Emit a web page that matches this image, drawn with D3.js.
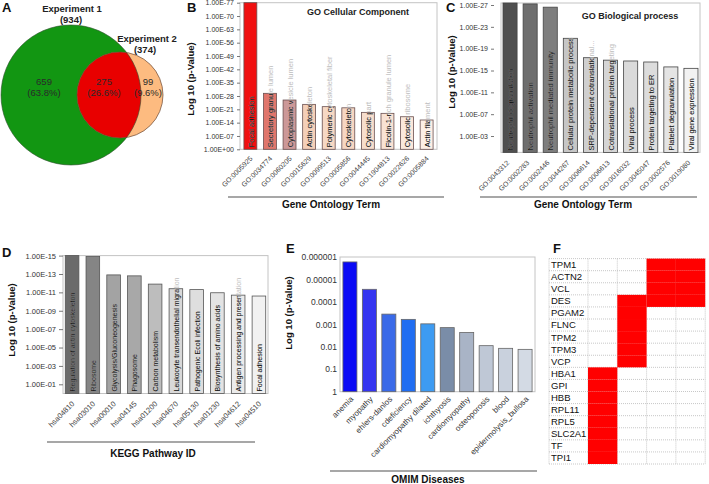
<!DOCTYPE html>
<html><head><meta charset="utf-8">
<script src="https://cdn.jsdelivr.net/npm/d3@7"></script>
<style>
body{margin:0;background:#fff}
svg{display:block;font-family:Arial,"Liberation Sans",sans-serif}
</style>
</head><body>
<svg id="chart" width="709" height="484"></svg>
<script>
// ---------------- DATA ----------------
const vennSets = ["Experiment 1", "Experiment 2"];
const vennTotals = [934, 374];
const vennCounts = [659, 275, 99];
const vennPct = ["63.8%", "26.6%", "9.6%"];

const ccIds = ["GO:0005925","GO:0034774","GO:0060205","GO:0015629","GO:0099513","GO:0005856","GO:0044445","GO:1904813","GO:0022626","GO:0005884"];
const ccNames = ["Focal adhesion","Secretory granule lumen","Cytoplasmic vesicle lumen","Actin cytoskeleton","Polymeric cytoskeletal fiber","Cytoskeleton","Cytosolic part","Ficolin-1-rich granule lumen","Cytosolic ribosome","Actin filament"];
const ccPValues = [1e-77, 4e-30, 1.3e-26, 2.5e-24, 4e-23, 1.6e-22, 4e-20, 1.3e-19, 7.9e-18, 4e-16];
const ccTicks = [1e0,1e-7,1e-14,1e-21,1e-28,1e-35,1e-42,1e-49,1e-56,1e-63,1e-70,1e-77];
const ccTickLabels = ["1.00E+00","1.00E-07","1.00E-14","1.00E-21","1.00E-28","1.00E-35","1.00E-42","1.00E-49","1.00E-56","1.00E-63","1.00E-70","1.00E-77"];

const bpIds = ["GO:0043312","GO:0002283","GO:0002446","GO:0044267","GO:0006614","GO:0006613","GO:0016032","GO:0045047","GO:0002576","GO:0019080"];
const bpNames = ["Neutrophil degranulation","Neutrophil activation","Neutrophil mediated immunity","Cellular protein metabolic process","SRP-dependent cotranslational...","Cotranslational protein targeting","Viral process","Protein targeting to ER","Platelet degranulation","Viral gene expression"];
const bpPValues = [4e-28, 6.3e-28, 2.5e-27, 1.26e-21, 4.5e-18, 1.26e-17, 1.8e-17, 2.75e-17, 2.2e-16, 4e-16];
const bpTicks = [1e-3,1e-7,1e-11,1e-15,1e-19,1e-23,1e-27];
const bpTickLabels = ["1.00E-03","1.00E-07","1.00E-11","1.00E-15","1.00E-19","1.00E-23","1.00E-27"];

const keggIds = ["hsa04810","hsa03010","hsa00010","hsa04145","hsa01200","hsa04670","hsa05130","hsa01230","hsa04612","hsa04510"];
const keggNames = ["Regulation of actin cytoskeleton","Ribosome","Glycolysis/Gluconeogenesis","Phagosome","Carbon metabolism","Leukocyte transendothelial migration","Pathogenic Ecoli infection","Biosynthesis of amino acids","Antigen processing and presentation","Focal adhesion"];
const keggPValues = [7.9e-16, 1.26e-15, 1.26e-13, 1.6e-13, 1.26e-12, 4e-12, 5e-12, 1.1e-11, 2e-11, 2.5e-11];
const keggTicks = [1e-1,1e-3,1e-5,1e-7,1e-9,1e-11,1e-13,1e-15];
const keggTickLabels = ["1.00E-01","1.00E-03","1.00E-05","1.00E-07","1.00E-09","1.00E-11","1.00E-13","1.00E-15"];

const omimNames = ["anemia","myopathy","ehlers-danlos","cdeficiency","cardiomyopathy dilated","ichthyosis","cardiomyopathy","osteoporosis","blood","epidermolysis_bullosa"];
const omimPValues = [1.66e-6, 2.75e-5, 3.5e-4, 6.0e-4, 9.5e-4, 1.4e-3, 2.3e-3, 8.9e-3, 1.17e-2, 1.3e-2];
const omimTicks = [1,0.1,0.01,0.001,0.0001,0.00001,0.000001];
const omimTickLabels = ["1","0.1","0.01","0.001","0.0001","0.00001","0.000001"];

const geneNames = ["TPM1","ACTN2","VCL","DES","PGAM2","FLNC","TPM2","TPM3","VCP","HBA1","GPI","HBB","RPL11","RPL5","SLC2A1","TF","TPI1"];
const geneGroups = [[2,3],[2,3],[2,3],[1,2,3],[1],[1],[1],[1],[1],[0],[0],[0],[0],[0],[0],[0],[0]];
const groupColumns = [0,1,2,3];

// ---------------- STYLES ----------------
const ccColors = ["#f01010","#e0766c","#cc9898","#f4cfb8","#f6d8c4","#f6d6c2","#f7ddcc","#f8e2d4","#fae8dc","#fcefe6"];
const bpColors = ["#4f4f4f","#6e6e6e","#7e7e7e","#c6c6c6","#cfcfcf","#d5d5d5","#dadada","#dcdcdc","#e4e4e4","#f2f2f2"];
const keggColors = ["#6b6b6b","#858585","#a3a3a3","#a8a8a8","#bdbdbd","#d8d8d8","#dedede","#e3e3e3","#ebebeb","#f1f1f1"];
const omimColors = ["#0a0af5","#3535f0","#3a6ae8","#1f6df2","#3d9bf2","#7a8da8","#a9b4c6","#bfc8d6","#c9d1dd","#d3dae4"];

const svg = d3.select("#chart");
svg.append("rect").attr("width",709).attr("height",484).attr("fill","#fff");
const defs = svg.append("defs");

function panelLetter(t,x,y){
  svg.append("text").attr("x",x).attr("y",y).text(t)
    .attr("font-size",13).attr("font-weight","bold").attr("fill","#111");
}

// ---------------- A: Venn ----------------
(function(){
  const g = svg.append("g");
  const c1 = {x:71,y:95,r:70}, c2 = {x:120,y:95,r:43};
  defs.append("clipPath").attr("id","clipGreen").append("circle").attr("cx",c1.x).attr("cy",c1.y).attr("r",c1.r);
  g.append("circle").attr("cx",c1.x).attr("cy",c1.y).attr("r",c1.r).attr("fill","#129612");
  g.append("circle").attr("cx",c2.x).attr("cy",c2.y).attr("r",c2.r).attr("fill","#fdbb80");
  g.append("circle").attr("cx",c2.x).attr("cy",c2.y).attr("r",c2.r).attr("fill","#e80000").attr("clip-path","url(#clipGreen)");
  g.append("circle").attr("cx",c1.x).attr("cy",c1.y).attr("r",c1.r).attr("fill","none").attr("stroke","#2f4f2f").attr("stroke-width",0.6);
  g.append("circle").attr("cx",c2.x).attr("cy",c2.y).attr("r",c2.r).attr("fill","none").attr("stroke","#6a4630").attr("stroke-width",0.7);
  const hdr = [{x:72,y:12},{x:147,y:42}];
  vennSets.forEach((s,i)=>{
    g.append("text").attr("x",hdr[i].x).attr("y",hdr[i].y).attr("text-anchor","middle")
      .attr("font-size",9.5).attr("font-weight","bold").attr("fill","#222").text(s);
    g.append("text").attr("x",hdr[i].x-(i?2:1)).attr("y",hdr[i].y+10.5).attr("text-anchor","middle")
      .attr("font-size",9.5).attr("font-weight","bold").attr("fill","#222").text("("+vennTotals[i]+")");
  });
  const pos = [44,104,148];
  vennCounts.forEach((v,i)=>{
    g.append("text").attr("x",pos[i]).attr("y",85).attr("text-anchor","middle").attr("font-size",9.5).attr("fill","#2a2a2a").text(v);
    g.append("text").attr("x",pos[i]).attr("y",96).attr("text-anchor","middle").attr("font-size",9.5).attr("fill","#2a2a2a").text("("+vennPct[i]+")");
  });
})();

// ---------------- Bar panel helper ----------------
function barPanel(o){
  const g = svg.append("g");
  const x = d3.scaleBand().domain(o.ids).range([o.left,o.right]).paddingInner(o.padIn).paddingOuter(o.padOut);
  const y = d3.scaleLog().domain([1,o.pMin]).range([o.bottom,o.tickTop]);
  g.append("rect").attr("x",o.left).attr("y",o.boxTop).attr("width",o.right-o.left).attr("height",o.bottom-o.boxTop)
    .attr("fill","none").attr("stroke","#c4c4c4").attr("stroke-width",1);
  const ax = d3.axisLeft(y).tickValues(o.ticks).tickFormat((d,i)=>o.tickLabels[i]).tickSize(o.tickSize).tickPadding(o.tickPad);
  const ag = g.append("g").attr("transform",`translate(${o.axisX},0)`).call(ax);
  ag.select(".domain").remove();
  ag.selectAll(".tick line").attr("stroke","#777");
  ag.selectAll(".tick text").attr("font-size",o.tickFont).attr("fill","#333").attr("font-family","Arial, 'Liberation Sans', sans-serif");
  const top = p => Math.max(y(p), o.boxTop);
  g.selectAll("rect.bar").data(o.values).join("rect").attr("class","bar")
    .attr("x",(d,i)=>x(o.ids[i])).attr("width",x.bandwidth())
    .attr("y",d=>top(d)).attr("height",d=>o.bottom-top(d))
    .attr("fill",(d,i)=>o.colors[i]).attr("stroke",o.barStroke).attr("stroke-width",0.8);
  if(o.names){
    o.values.forEach((d,i)=>{
      const cx = x(o.ids[i]) + x.bandwidth()/2 + 0.5;
      const cid = `clip-${o.key}-${i}`;
      defs.append("clipPath").attr("id",cid).append("rect")
        .attr("x",x(o.ids[i])).attr("y",top(d)+0.5).attr("width",x.bandwidth()).attr("height",o.bottom-top(d));
      const tr = `translate(${cx},${o.bottom-2}) rotate(-90)`;
      g.append("text").attr("transform",tr).attr("dy","0.35em").attr("font-size",o.nameFont)
        .attr("fill","#bdbdbd").text(o.names[i]);
      g.append("g").attr("clip-path",`url(#${cid})`)
        .append("text").attr("transform",tr).attr("dy","0.35em").attr("font-size",o.nameFont)
        .attr("fill","#111").text(o.names[i]);
    });
  }
  o.ids.forEach((id,i)=>{
    const cx = x(id) + x.bandwidth()/2 + o.lblDx;
    const cy = o.bottom + o.lblDy;
    g.append("text").attr("transform",`translate(${cx},${cy}) rotate(-45)`).attr("text-anchor","end")
      .attr("dy","0.35em").attr("font-size",o.lblFont).attr("fill",o.lblColor).text(o.xLabels ? o.xLabels[i] : id);
  });
  g.append("line").attr("x1",o.lineX1).attr("x2",o.lineX2).attr("y1",o.lineY).attr("y2",o.lineY)
    .attr("stroke","#8a8a8a").attr("stroke-width",1.5);
  g.append("text").attr("x",o.titleX).attr("y",o.titleY).attr("text-anchor","middle")
    .attr("font-size",10).attr("font-weight","bold").attr("fill","#111").text(o.xTitle);
  g.append("text").attr("transform",`translate(${o.yTitleX},${o.yTitleY}) rotate(-90)`).attr("text-anchor","middle")
    .attr("dy","0.35em").attr("font-size",9.5).attr("font-weight","bold").attr("fill","#111").text("Log 10 (p-Value)");
  if(o.panelTitle){
    g.append("text").attr("x",o.ptX).attr("y",o.ptY).attr("text-anchor","middle")
      .attr("font-size",9).attr("font-weight","bold").attr("fill","#222").text(o.panelTitle);
  }
}

// ---------------- B ----------------
barPanel({key:"cc", ids:ccIds, names:ccNames, values:ccPValues, colors:ccColors,
  left:240, right:437, padIn:0.34, padOut:0.2, pMin:1e-77, bottom:149.3, tickTop:2.7, boxTop:2.7,
  ticks:ccTicks, tickLabels:ccTickLabels, axisX:240, tickSize:3, tickPad:3, tickFont:7,
  barStroke:"#6a5050", nameFont:7.5, lblDx:1, lblDy:8, lblFont:7, lblColor:"#444",
  lineX1:228, lineX2:444, lineY:197, titleX:331, titleY:208, xTitle:"Gene Ontology Term",
  yTitleX:191, yTitleY:79, panelTitle:"GO Cellular Component", ptX:358, ptY:15});

// ---------------- C ----------------
barPanel({key:"bp", ids:bpIds, names:bpNames, values:bpPValues, colors:bpColors,
  left:501, right:700, padIn:0.3, padOut:0.1, pMin:1e-27, bottom:152.4, tickTop:5, boxTop:3,
  ticks:bpTicks, tickLabels:bpTickLabels, axisX:494, tickSize:3, tickPad:3, tickFont:7,
  barStroke:"#444", nameFont:7.5, lblDx:-2, lblDy:9, lblFont:7, lblColor:"#444",
  lineX1:480, lineX2:697, lineY:197, titleX:583, titleY:208, xTitle:"Gene Ontology Term",
  yTitleX:452, yTitleY:72, panelTitle:"GO Biological process", ptX:630, ptY:19});

// ---------------- D ----------------
barPanel({key:"kegg", ids:keggIds, names:keggNames, values:keggPValues, colors:keggColors,
  left:63, right:268, padIn:0.345, padOut:0.11, pMin:1e-15, bottom:393.5, tickTop:255.6, boxTop:255.6,
  ticks:keggTicks, tickLabels:keggTickLabels, axisX:63, tickSize:4, tickPad:3, tickFont:7.5,
  barStroke:"#555", nameFont:7, lblDx:1, lblDy:9, lblFont:7.5, lblColor:"#444",
  lineX1:47, lineX2:255, lineY:442, titleX:153, titleY:457, xTitle:"KEGG Pathway ID",
  yTitleX:12, yTitleY:320});

// ---------------- E ----------------
barPanel({key:"omim", ids:omimNames, names:null, values:omimPValues, colors:omimColors,
  left:340, right:535, padIn:0.28, padOut:0.15, pMin:1e-6, bottom:391.7, tickTop:257, boxTop:257,
  ticks:omimTicks, tickLabels:omimTickLabels, axisX:340, tickSize:0, tickPad:3, tickFont:8.5,
  barStroke:"#666", lblDx:2, lblDy:6, lblFont:8, lblColor:"#333",
  lineX1:330, lineX2:537, lineY:471, titleX:428, titleY:483, xTitle:"OMIM Diseases",
  yTitleX:289, yTitleY:313});

// ---------------- F: grid ----------------
(function(){
  const g = svg.append("g");
  const labelLeft = 549, gridLeft = 588, gridRight = 705.2, top = 258.6, bottom = 464;
  const xCol = d3.scaleBand().domain(groupColumns).range([gridLeft,gridRight]);
  const yRow = d3.scaleBand().domain(geneNames).range([top,bottom]);
  [...geneNames.map(n=>yRow(n)), bottom].forEach(yy=>{
    g.append("line").attr("x1",labelLeft).attr("x2",gridRight).attr("y1",yy).attr("y2",yy)
      .attr("stroke","#b0b0b0").attr("stroke-width",0.7).attr("stroke-dasharray","1,1");
  });
  [labelLeft, ...groupColumns.map(c=>xCol(c)), gridRight].forEach(xx=>{
    g.append("line").attr("x1",xx).attr("x2",xx).attr("y1",top).attr("y2",bottom)
      .attr("stroke","#b0b0b0").attr("stroke-width",0.7).attr("stroke-dasharray","1,1");
  });
  geneNames.forEach((n,i)=>{
    geneGroups[i].forEach(c=>{
      g.append("rect").attr("x",xCol(c)).attr("y",yRow(n)).attr("width",xCol.bandwidth()).attr("height",yRow.bandwidth())
        .attr("fill","#ff0000");
    });
    g.append("text").attr("x",labelLeft+2).attr("y",yRow(n)+yRow.bandwidth()/2).attr("dy","0.36em")
      .attr("font-size",9.5).attr("fill","#111").text(n);
  });
})();

panelLetter("A",2,12);
panelLetter("B",187,12);
panelLetter("C",446,12);
panelLetter("D",2,257);
panelLetter("E",286,253);
panelLetter("F",553,253);
</script>
</body></html>
